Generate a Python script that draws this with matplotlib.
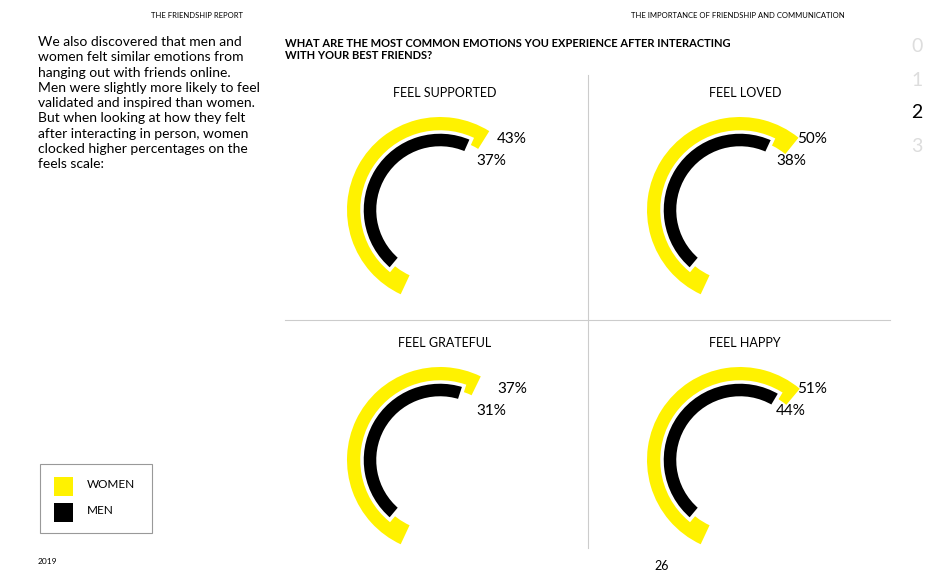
import matplotlib
matplotlib.use("Agg")
import matplotlib.pyplot as plt
from matplotlib.patches import Wedge, Rectangle

titles = ["FEEL SUPPORTED", "FEEL LOVED", "FEEL GRATEFUL", "FEEL HAPPY"]
women = [43, 50, 37, 51]
men = [37, 38, 31, 44]
YEL = "#FFF200"

plt.rcParams['font.family'] = ['Lato', 'DejaVu Sans']
fig = plt.figure(figsize=(9.4, 5.87), dpi=100)
ax = fig.add_axes([0, 0, 1, 1])
ax.set_xlim(0, 940); ax.set_ylim(0, 587); ax.axis('off')
H = 587
def Y(y): return H - y

ax.text(243, Y(16), "THE FRIENDSHIP REPORT", fontsize=5.5, ha='right', va='center')
ax.text(845, Y(16), "THE IMPORTANCE OF FRIENDSHIP AND COMMUNICATION", fontsize=5.5, ha='right', va='center')
body = ("We also discovered that men and\nwomen felt similar emotions from\nhanging out with friends online.\n"
        "Men were slightly more likely to feel\nvalidated and inspired than women.\nBut when looking at how they felt\n"
        "after interacting in person, women\nclocked higher percentages on the\nfeels scale:")
ax.text(38, Y(36), body, fontsize=10, va='top', ha='left', linespacing=1.33)
ax.text(285, Y(38), "WHAT ARE THE MOST COMMON EMOTIONS YOU EXPERIENCE AFTER INTERACTING\nWITH YOUR BEST FRIENDS?",
        fontsize=8, fontweight='bold', va='top', ha='left', linespacing=1.1)
for i, n in enumerate("0123"):
    ax.text(917, Y(47 + 33 * i), n, fontsize=14, ha='center', va='center',
            color='black' if n == '2' else '#dddddd')
ax.plot([588, 588], [Y(75), Y(548)], color='#cccccc', lw=0.8)
ax.plot([285, 890], [Y(320), Y(320)], color='#cccccc', lw=0.8)

centers = [(440, 210), (740, 210), (440, 460), (740, 460)]
for t, w, m, (cx, cy) in zip(titles, women, men, centers):
    c = (cx, Y(cy))
    ax.text(cx + 5, Y(cy - 117), t, fontsize=9, ha='center', va='center')
    ws, wsw = 245, 144 + w
    ax.add_patch(Wedge(c, 93, ws - wsw, ws, width=21, facecolor=YEL, edgecolor='none'))
    ms, msw = 230, 127 + m
    ax.add_patch(Wedge(c, 78, ms - msw, ms, width=16, facecolor='black', edgecolor='white', lw=2.5))
    ax.text(cx + 57, Y(cy - 71), f"{w}%", fontsize=11, ha='left', va='center')
    ax.text(cx + 36, Y(cy - 49), f"{m}%", fontsize=11, ha='left', va='center')

ax.add_patch(Rectangle((40, Y(533)), 112, 69, fill=False, edgecolor='#999999', lw=0.8))
ax.add_patch(Rectangle((54, Y(496)), 19, 19, facecolor=YEL))
ax.add_patch(Rectangle((54, Y(522)), 19, 19, facecolor='black'))
ax.text(87, Y(484), "WOMEN", fontsize=8.5, va='center')
ax.text(87, Y(510), "MEN", fontsize=8.5, va='center')
ax.text(38, Y(561), "2019", fontsize=6, va='center')
ax.text(662, Y(566), "26", fontsize=9, ha='center', va='center')
fig.savefig("out.png", dpi=100)
